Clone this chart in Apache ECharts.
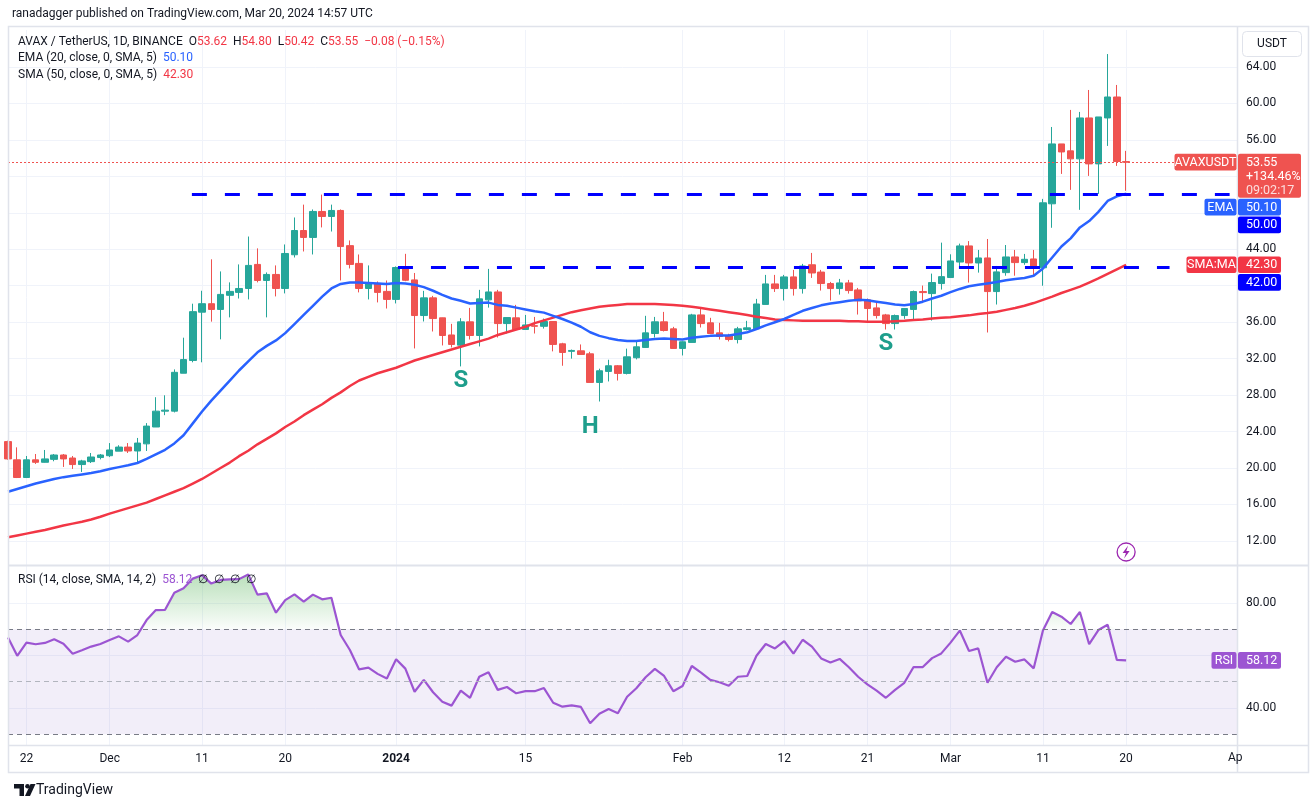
<!DOCTYPE html>
<html>
<head>
<meta charset="utf-8">
<script src="https://cdn.jsdelivr.net/npm/echarts@6/dist/echarts.min.js"></script>
<style>
html, body { margin: 0; padding: 0; background: #fff; }
#main { width: 1316px; height: 808px; }
</style>
</head>
<body>
<div id="main"></div>
<script>
// AVAX / USDT daily: 2023-11-20 .. 2024-03-20
var startDate = '2023-11-20';

// [open, close, low, high]
var ohlc = [
    [22.9,21.0,20.9,23.0],[20.9,18.96,18.9,22.27],[18.96,20.9,18.9,21.32],[20.9,20.63,20.45,21.54],
    [20.63,21.0,20.6,21.98],[20.95,21.43,20.74,21.54],[21.43,21.0,20.12,21.54],[21.1,20.38,19.9,21.32],
    [20.38,20.78,19.57,20.9],[20.7,21.21,20.55,21.65],[21.15,21.43,20.95,21.54],
    // Dec
    [21.35,21.98,21.2,22.74],[21.85,22.3,21.85,22.5],[22.3,21.87,21.65,22.74],[21.87,22.74,20.55,23.3],
    [22.65,24.6,21.87,24.93],[24.5,26.24,24.5,27.77],[26.24,26.35,25.8,27.98],[26.24,30.5,26.1,30.82],
    [30.4,31.9,30.4,34.3],[31.8,37.16,31.6,38.03],[37.1,38.03,31.6,39.45],[38.03,37.4,36.06,42.9],
    [37.4,39.05,34.12,41.57],[38.95,39.38,36.53,40.37],[39.27,39.7,38.6,42.34],[39.7,42.23,38.5,45.4],
    [42.34,40.58,40.37,44.1],[40.58,41.24,36.53,41.46],[41.24,39.7,38.83,42.23],[39.7,43.54,39.16,44.53],
    [43.4,46.06,43.1,47.49],[46.06,45.3,43.76,48.9],[45.3,48.15,43.43,48.37],[48.15,47.6,46.4,50.0],
    [47.6,48.26,45.95,48.9],[48.26,44.3,40.58,48.37],[44.4,42.34,41.9,44.97],[42.45,39.7,39.27,43.43],
    [39.7,40.26,38.5,42.23],[40.26,39.27,38.17,40.47],[39.38,38.5,37.5,40.58],
    // Jan
    [38.5,42.0,38.06,42.12],[42.0,40.6,40.5,43.5],[40.64,36.73,33.12,41.4],[36.73,38.67,36.08,39.44],
    [38.67,36.4,34.98,38.89],[36.48,34.54,33.45,36.5],[34.6,33.56,33.23,35.82],[33.48,36.04,31.15,36.44],
    [36.04,34.54,34.1,37.57],[34.54,38.56,33.34,39.55],[38.45,39.32,37.6,41.85],[39.32,35.85,34.32,39.55],
    [35.85,36.51,34.76,36.51],[36.48,35.2,35.2,37.9],[35.2,35.7,35.2,36.8],[35.62,35.55,34.76,36.58],
    [35.55,36.08,35.3,36.4],[36.08,33.56,32.8,36.1],[33.63,32.68,31.22,33.74],[32.8,32.9,32.0,33.0],
    [32.86,32.46,32.46,33.56],[32.53,29.39,29.39,32.75],[29.39,30.67,27.3,30.9],[30.6,31.22,29.5,31.88],
    [31.22,30.38,29.6,31.3],[30.38,32.2,30.27,33.1],[32.1,33.3,31.92,33.96],[33.23,34.83,33.2,36.7],
    [34.76,36.04,34.32,36.58],[36.04,35.09,34.98,37.13],[35.27,33.12,33.1,35.49],
    // Feb
    [33.12,33.85,32.35,33.9],[33.78,36.8,33.78,36.92],[36.8,35.85,35.42,37.46],[35.93,34.76,34.76,36.48],
    [34.83,34.43,34.1,35.93],[34.5,34.1,33.89,34.73],[34.1,35.27,33.67,35.49],[35.2,35.38,35.1,36.15],
    [35.27,38.0,35.27,38.56],[37.95,40.2,37.95,41.19],[40.2,39.69,39.32,41.19],[39.69,40.97,38.38,41.19],
    [40.97,39.69,38.92,41.74],[39.69,42.17,39.14,42.4],[42.3,41.4,40.86,43.6],[41.5,40.24,39.47,41.74],
    [40.24,39.69,38.38,40.42],[39.69,40.31,39.03,40.75],[40.31,39.47,39.14,40.64],[39.54,38.34,36.84,39.76],
    [38.45,37.5,36.07,38.6],[37.57,36.73,36.4,38.26],[36.8,35.85,35.2,36.91],[35.85,36.73,35.2,36.84],
    [36.73,37.5,36.37,37.5],[37.4,39.36,36.29,39.47],[39.36,39.25,38.26,40.02],[39.14,40.35,36.18,41.33],
    [40.24,41.0,39.58,44.73],
    // Mar
    [40.9,42.72,40.9,43.45],[42.6,44.37,42.03,44.62],[44.37,42.5,40.35,44.9],[42.5,43.05,41.44,43.93],
    [43.05,39.36,34.87,45.13],[39.36,41.52,37.94,42.17],[41.44,43.16,41.1,44.47],[43.16,42.54,41.1,43.93],
    [42.54,42.9,42.3,43.49],[42.94,41.99,41.1,43.93],[41.97,49.1,40.0,49.53],[48.99,55.56,46.36,57.42],
    [55.56,54.68,52.27,55.56],[54.8,53.92,50.52,59.29],[53.92,58.41,48.33,59.07],[58.41,53.37,52.05,61.48],
    [53.37,58.52,50.08,58.52],[58.41,60.71,55.34,65.42],[60.71,53.63,53.15,62.03],[53.62,53.55,50.42,54.80]
];

var ema20 = [
    17.4,17.7,18.0,18.3,18.55,18.8,19.0,19.15,19.3,19.45,19.65,
    19.9,20.1,20.3,20.55,21.0,21.5,22.0,22.7,23.6,24.9,26.2,27.4,28.5,29.6,30.7,31.7,32.7,33.4,34.0,34.8,
    35.8,36.8,37.8,38.8,39.7,40.2,40.35,40.35,40.3,40.25,40.2,
    40.3,40.25,40.1,39.85,39.45,39.0,38.6,38.35,38.05,38.1,38.15,37.9,37.8,37.6,37.4,37.2,37.05,36.7,36.35,35.95,
    35.5,34.9,34.5,34.25,34.05,33.95,33.95,34.05,34.15,34.2,34.15,
    34.1,34.3,34.4,34.5,34.55,34.55,34.7,34.9,35.25,35.65,36.0,36.35,36.8,37.25,37.55,37.85,38.05,38.2,38.35,38.45,
    38.4,38.25,38.1,37.95,37.85,38.0,38.25,38.6,38.9,
    39.3,39.65,39.95,40.1,40.25,40.4,40.6,40.75,40.85,41.1,41.9,43.1,44.3,45.2,46.4,47.1,48.1,49.3,49.8,50.1
];

var sma50 = [
    12.4,12.6,12.8,13.0,13.2,13.45,13.7,13.9,14.1,14.35,14.65,
    15.0,15.3,15.6,15.9,16.2,16.6,17.0,17.4,17.8,18.3,18.8,19.4,20.0,20.6,21.3,21.9,22.6,23.2,23.8,24.5,
    25.1,25.8,26.4,27.0,27.7,28.3,29.0,29.6,30.0,30.4,30.7,
    31.0,31.4,31.8,32.1,32.4,32.7,33.0,33.3,33.6,33.9,34.2,34.6,34.9,35.2,35.5,35.9,36.2,36.5,36.8,37.1,
    37.3,37.5,37.7,37.8,37.9,38.0,38.0,38.0,38.0,37.95,37.9,
    37.8,37.7,37.55,37.4,37.25,37.1,36.95,36.8,36.6,36.45,36.3,36.25,36.2,36.15,36.15,36.15,36.15,36.15,36.1,36.1,
    36.05,36.05,36.05,36.1,36.15,36.25,36.3,36.4,36.5,
    36.55,36.65,36.75,36.9,37.0,37.15,37.35,37.55,37.8,38.1,38.45,38.8,39.2,39.55,39.9,40.35,40.8,41.3,41.8,42.3
];

var rsi14 = [
    66.9,59.9,64.9,64.3,64.8,66.2,64.5,60.7,62.0,63.4,64.4,
    65.9,67.3,65.3,67.8,73.5,77.3,77.4,83.9,85.6,89.3,90.6,87.4,88.8,89.0,89.1,90.9,83.2,83.7,76.3,81.1,
    83.3,80.5,83.2,81.4,82.0,67.8,62.1,54.7,55.4,53.0,51.2,
    58.6,55.0,46.2,50.7,46.0,42.4,40.9,46.6,43.9,51.9,53.6,46.9,48.0,45.6,46.4,46.4,47.6,42.0,40.5,41.0,
    40.4,34.2,37.8,39.6,38.0,44.3,47.5,51.7,54.9,52.2,46.4,
    48.4,56.0,53.5,50.7,49.8,48.5,51.9,52.2,59.9,64.4,62.7,65.5,60.7,66.0,63.4,58.9,57.3,58.7,55.5,51.9,
    49.0,46.6,43.9,46.9,49.6,55.6,55.6,59.0,60.8,
    64.9,69.5,61.7,62.7,49.6,55.5,59.5,57.6,58.5,55.1,69.5,76.6,74.8,72.0,76.6,64.3,69.7,71.7,58.3,58.12
];

var tickDates = ['2023-11-22','2023-12-01','2023-12-11','2023-12-20','2024-01-01','2024-01-15',
                 '2024-02-01','2024-02-12','2024-02-21','2024-03-01','2024-03-11','2024-03-20'];
var tickLabels = ['22','Dec','11','20','2024','15','Feb','12','21','Mar','11','20'];
var priceTicks = [12,16,20,24,28,32,36,40,44,48,52,56,60,64];
var priceLabels = [12,16,20,24,28,32,36,44,56,60,64];
var rsiTicks = [40,60,80];
var rsiLabels = [40,80];

var levelHigh = 50, levelLow = 42;
var patternMarks = [['S','2024-01-08',29.5],['H','2024-01-22',24.5],['S','2024-02-23',33.6]];

var FONT = 'Roboto, "Noto Sans", sans-serif';
var UP = '#26a69a', DOWN = '#ef5350', PURPLE = '#9c55d2';

function dayIndex(s) {
    return Math.round((Date.parse(s + 'T00:00:00Z') - Date.parse(startDate + 'T00:00:00Z')) / 864e5);
}
var tickDays = tickDates.map(dayIndex);
var labelByDay = {};
tickDays.forEach(function (d, i) { labelByDay[d] = tickLabels[i]; });
var xMax = dayIndex('2024-04-01');
var last = ohlc.length - 1;

var candleData = ohlc.map(function (d, i) { return [i, d[0], d[1], d[2], d[3]]; });
var emaData = ema20.map(function (v, i) { return [i, v]; });
var smaData = sma50.map(function (v, i) { return [i, v]; });
var rsiData = rsi14.map(function (v, i) { return [i, v]; });
var rsiHot = rsi14.map(function (v, i) { return [i, Math.max(v, 70)]; });

var myChart = echarts.init(document.getElementById('main'));

function xAxisFor(grid, withLabels) {
    return {
        type: 'value', gridIndex: grid, min: 0, max: xMax,
        axisLine: { show: false },
        axisTick: { show: false, customValues: tickDays },
        axisLabel: withLabels ? {
            show: true, customValues: tickDays, margin: 8,
            color: '#131722', fontSize: 12, fontFamily: FONT,
            formatter: function (v) {
                var t = labelByDay[v];
                return t === '2024' ? '{b|2024}' : t;
            },
            rich: { b: { fontWeight: 'bold', fontSize: 12, color: '#131722', fontFamily: FONT } }
        } : { show: false },
        splitLine: { show: true, lineStyle: { color: '#f0f3fa', width: 1 } }
    };
}

option = {
    backgroundColor: '#ffffff',
    animation: false,
    grid: [
        { left: 8, top: 30, width: 1229, height: 535 },
        { left: 8, top: 566, width: 1229, height: 179 }
    ],
    xAxis: [xAxisFor(0, false), xAxisFor(1, true)],
    yAxis: [
        {
            type: 'value', gridIndex: 0, position: 'right', min: 9.36, max: 68.06, scale: true,
            axisLine: { show: true, lineStyle: { color: '#e0e3eb' } },
            axisTick: { show: false, customValues: priceTicks },
            axisLabel: {
                customValues: priceLabels, margin: 9, color: '#131722', fontSize: 12, fontFamily: FONT,
                formatter: function (v) { return v.toFixed(2); }
            },
            splitLine: { show: true, lineStyle: { color: '#f0f3fa' } }
        },
        {
            type: 'value', gridIndex: 1, position: 'right', min: 25.9, max: 94.1, scale: true,
            axisLine: { show: true, lineStyle: { color: '#e0e3eb' } },
            axisTick: { show: false, customValues: rsiTicks },
            axisLabel: {
                customValues: rsiLabels, margin: 9, color: '#131722', fontSize: 12, fontFamily: FONT,
                formatter: function (v) { return v.toFixed(2); }
            },
            splitLine: { show: true, lineStyle: { color: '#f0f3fa' } }
        }
    ],
    series: [
        {
            name: 'AVAXUSDT', type: 'candlestick', xAxisIndex: 0, yAxisIndex: 0,
            data: candleData, barWidth: 7, clip: true,
            itemStyle: { color: UP, color0: DOWN, borderColor: UP, borderColor0: DOWN, borderWidth: 1 },
            markLine: {
                silent: true, symbol: ['none', 'none'], label: { show: false },
                data: [
                    [{ coord: [19.9, levelHigh], lineStyle: { color: '#0000ff', width: 3, type: [15, 18] } },
                     { coord: [132.2, levelHigh] }],
                    [{ coord: [42.2, levelLow], lineStyle: { color: '#0000ff', width: 3, type: [15, 18] } },
                     { coord: [125.7, levelLow] }],
                    [{ coord: [0, ohlc[last][1]], lineStyle: { color: '#ef5350', width: 1, type: [2, 2] } },
                     { coord: [126.2, ohlc[last][1]] }]
                ]
            },
            markPoint: {
                silent: true, symbol: 'circle', symbolSize: 1,
                itemStyle: { color: 'rgba(0,0,0,0)' },
                label: {
                    show: true, position: 'inside', color: '#1e9e8c',
                    fontSize: 24, fontWeight: 'bold', fontFamily: FONT,
                    formatter: function (p) { return p.name; }
                },
                data: patternMarks.map(function (m) {
                    return { name: m[0], coord: [dayIndex(m[1]), m[2]] };
                })
            }
        },
        {
            name: 'SMA', type: 'line', xAxisIndex: 0, yAxisIndex: 0, data: smaData,
            symbol: 'none', silent: true, z: 3,
            lineStyle: { color: '#f23645', width: 2.5 }
        },
        {
            name: 'EMA', type: 'line', xAxisIndex: 0, yAxisIndex: 0, data: emaData,
            symbol: 'none', silent: true, z: 3,
            lineStyle: { color: '#2962ff', width: 2.5 }
        },
        {
            name: 'RSI hot', type: 'line', xAxisIndex: 1, yAxisIndex: 1, data: rsiHot,
            symbol: 'none', silent: true, z: 1,
            lineStyle: { width: 0, opacity: 0 },
            areaStyle: {
                origin: 70,
                color: {
                    type: 'linear', x: 0, y: 0, x2: 0, y2: 1,
                    colorStops: [
                        { offset: 0, color: 'rgba(76,175,80,0.55)' },
                        { offset: 1, color: 'rgba(76,175,80,0.03)' }
                    ]
                }
            }
        },
        {
            name: 'RSI', type: 'line', xAxisIndex: 1, yAxisIndex: 1, data: rsiData,
            symbol: 'none', silent: true, z: 3,
            lineStyle: { color: PURPLE, width: 2.2 },
            markArea: {
                silent: true, itemStyle: { color: 'rgba(126,87,194,0.1)' },
                data: [[{ yAxis: 30 }, { yAxis: 70 }]]
            },
            markLine: {
                silent: true, symbol: ['none', 'none'], label: { show: false },
                data: [
                    { yAxis: 70, lineStyle: { color: '#787b86', width: 1, type: [5, 4] } },
                    { yAxis: 50, lineStyle: { color: '#b2b5be', width: 1, type: [5, 4] } },
                    { yAxis: 30, lineStyle: { color: '#787b86', width: 1, type: [5, 4] } }
                ]
            }
        }
    ]
};

myChart.setOption(option);

// ---- TradingView frame, legends and price tags ----
var g = [];
function txt(x, y, text, opts) {
    opts = opts || {};
    g.push({
        type: 'text', x: x, y: y, z: 100, silent: true,
        style: {
            text: text, fill: opts.fill || '#131722',
            font: (opts.weight || 'normal') + ' ' + (opts.size || 12) + 'px ' + FONT,
            align: opts.align || 'left', verticalAlign: 'middle', rich: opts.rich
        }
    });
}
function box(x, y, w, h, fill, r) {
    g.push({ type: 'rect', z: 99, silent: true, shape: { x: x, y: y, width: w, height: h, r: r || 0 }, style: { fill: fill } });
}
function line(x1, y1, x2, y2, color, w) {
    g.push({ type: 'line', z: 98, silent: true, shape: { x1: x1, y1: y1, x2: x2, y2: y2 }, style: { stroke: color, lineWidth: w || 1 } });
}

// frame
g.push({ type: 'rect', z: 97, silent: true, shape: { x: 8.5, y: 26.5, width: 1300, height: 746 },
         style: { fill: 'none', stroke: '#e0e3eb', lineWidth: 1.5 } });
line(8, 565.5, 1308, 565.5, '#e0e3eb', 2);
line(8, 745.5, 1308, 745.5, '#e0e3eb', 1.5);
line(1237.5, 26, 1237.5, 772, '#e0e3eb', 1.5);

txt(12, 14, 'ranadagger published on TradingView.com, Mar 20, 2024 14:57 UTC', { size: 12 });

var rich = {
    t: { fill: '#131722', fontSize: 12, fontFamily: FONT },
    r: { fill: '#f23645', fontSize: 12, fontFamily: FONT },
    b: { fill: '#2962ff', fontSize: 12, fontFamily: FONT },
    p: { fill: PURPLE, fontSize: 12, fontFamily: FONT }
};
var c = ohlc[last];
txt(18, 42, '{t|AVAX / TetherUS, 1D, BINANCE}  {t|O}{r|' + c[0].toFixed(2) + '}  {t|H}{r|' + c[3].toFixed(2) +
    '}  {t|L}{r|' + c[2].toFixed(2) + '}  {t|C}{r|' + c[1].toFixed(2) + '}  {r|\u22120.08 (\u22120.15%)}', { rich: rich });
txt(18, 58, '{t|EMA (20, close, 0, SMA, 5)}  {b|' + ema20[last].toFixed(2) + '}', { rich: rich });
txt(18, 75, '{t|SMA (50, close, 0, SMA, 5)}  {r|' + sma50[last].toFixed(2) + '}', { rich: rich });
txt(18, 580, '{t|RSI (14, close, SMA, 14, 2)}  {p|' + rsi14[last].toFixed(2) + '}  {t|\u2205  \u2205  \u2205  \u2205}', { rich: rich });

// USDT box
g.push({ type: 'rect', z: 99, silent: true, shape: { x: 1242.5, y: 31.5, width: 59, height: 25, r: 4 },
         style: { fill: '#fff', stroke: '#e0e3eb', lineWidth: 1 } });
txt(1272, 44, 'USDT', { align: 'center' });

// price tags stacked like TradingView does
var nameW = { 'AVAXUSDT': 62, 'EMA': 32, 'SMA:MA': 50, 'RSI': 25 };
var tags = [
    { v: c[1], name: 'AVAXUSDT', bg: '#ef5350', big: true },
    { v: ema20[last], name: 'EMA', bg: '#2962ff' },
    { v: levelHigh, bg: '#0000ff' },
    { v: sma50[last], name: 'SMA:MA', bg: '#f23645' },
    { v: levelLow, bg: '#0000ff' }
];
tags.forEach(function (t) { t.y = myChart.convertToPixel({ yAxisIndex: 0 }, t.v); });
tags.sort(function (a, b) { return a.y - b.y; });
var prevBottom = -1e9;
tags.forEach(function (t) {
    var h = t.big ? 44 : 16.7;
    var top = Math.max(t.y - 8.4, prevBottom + 1);
    prevBottom = top + h;
    box(1238, top, t.big ? 63 : 43, h, t.bg, 2);
    txt(1246, top + 8.6, t.v.toFixed(2), { fill: '#fff', size: 12.5 });
    if (t.big) {
        txt(1246, top + 22.6, '+134.46%', { fill: '#fff', size: 12.5 });
        txt(1246, top + 36.6, '09:02:17', { fill: 'rgba(255,255,255,0.8)', size: 12.5 });
    }
    if (t.name) {
        var w = nameW[t.name];
        box(1236.5 - w, top, w, 16.7, t.bg, 2);
        txt(1236.5 - w / 2, top + 8.6, t.name, { fill: '#fff', size: 12.5, align: 'center' });
    }
});

// RSI tag
var ry = myChart.convertToPixel({ yAxisIndex: 1 }, rsi14[last]);
box(1238, ry - 8.4, 43, 16.7, PURPLE, 2);
txt(1246, ry + 0.2, rsi14[last].toFixed(2), { fill: '#fff', size: 12.5 });
box(1236.5 - nameW.RSI, ry - 8.4, nameW.RSI, 16.7, PURPLE, 2);
txt(1236.5 - nameW.RSI / 2, ry + 0.2, 'RSI', { fill: '#fff', size: 12.5, align: 'center' });

// clipped April label at the right edge of the time scale
txt(1228, 758, 'Ap', { size: 12 });

// event marker (lightning) under the last candle
var ex = myChart.convertToPixel({ xAxisIndex: 0 }, last);
g.push({ type: 'circle', z: 99, silent: true, shape: { cx: ex, cy: 552, r: 9 },
         style: { fill: '#fff', stroke: '#9c27b0', lineWidth: 1.3 } });
g.push({ type: 'polygon', z: 100, silent: true,
         shape: { points: [[ex + 2, 545.5], [ex - 3.5, 553], [ex - 0.2, 553], [ex - 2, 558.5], [ex + 3.5, 551], [ex + 0.2, 551]] },
         style: { fill: '#9c27b0' } });

// TradingView logo
g.push({ type: 'polygon', z: 100, silent: true,
         shape: { points: [[14, 784], [24, 784], [24, 796], [19.5, 796], [19.5, 788.5], [14, 788.5]] },
         style: { fill: '#131722' } });
g.push({ type: 'circle', z: 100, silent: true, shape: { cx: 27.5, cy: 786.3, r: 2.3 }, style: { fill: '#131722' } });
g.push({ type: 'polygon', z: 100, silent: true,
         shape: { points: [[30.5, 784], [35.5, 784], [30, 796], [25, 796]] },
         style: { fill: '#131722' } });
txt(36, 790, 'TradingView', { size: 14 });

myChart.setOption({ graphic: g });
</script>
</body>
</html>
